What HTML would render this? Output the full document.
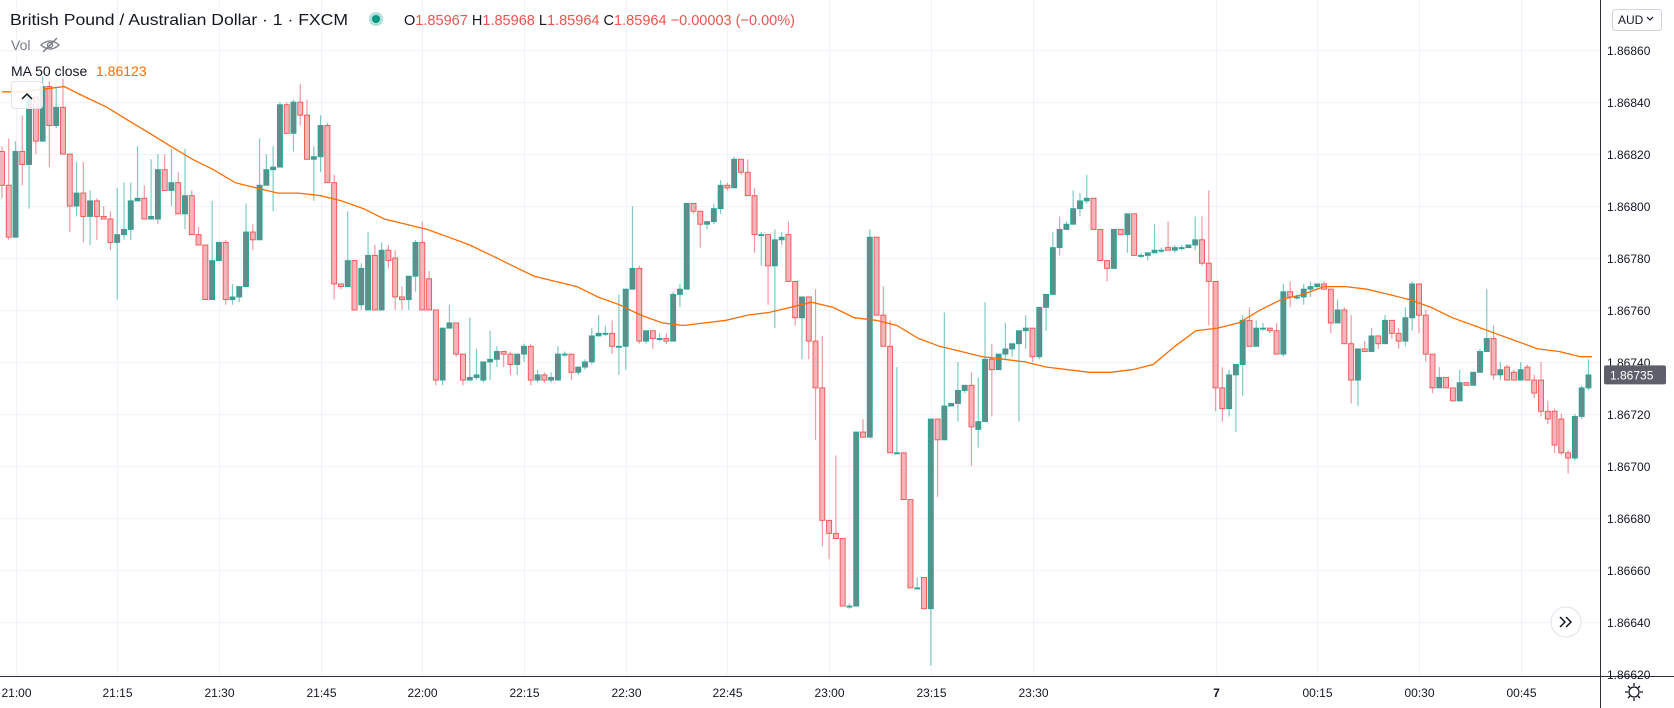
<!DOCTYPE html>
<html><head><meta charset="utf-8"><style>
html,body{margin:0;padding:0;background:#fff;}
svg{display:block;font-family:"Liberation Sans",sans-serif;}
</style></head><body>
<svg id="chart" width="1674" height="708" viewBox="0 0 1674 708" xmlns="http://www.w3.org/2000/svg">
<rect x="0" y="0" width="1674" height="708" fill="#ffffff"/>
<g id="grid"></g>
<g id="candles"></g>
<path id="ma" fill="none" stroke="#ff6d00" stroke-width="1.3"/>
<line x1="1600.5" y1="0" x2="1600.5" y2="708" stroke="#2a2e39" stroke-width="1"/>
<line x1="0" y1="676.5" x2="1674" y2="676.5" stroke="#2a2e39" stroke-width="1"/>
<g id="yticks"></g>
<g id="xticks"></g>

<g>
<text x="10" y="25" font-size="16" fill="#131722" textLength="338" lengthAdjust="spacingAndGlyphs">British Pound / Australian Dollar · 1 · FXCM</text>
<circle cx="376" cy="19" r="7" fill="#b2dfdb"/>
<circle cx="376" cy="19" r="4" fill="#089981"/>
<text x="404" y="25" font-size="15" fill="#ef5350" textLength="391" lengthAdjust="spacingAndGlyphs"><tspan fill="#131722">O</tspan>1.85967 <tspan fill="#131722">H</tspan>1.85968 <tspan fill="#131722">L</tspan>1.85964 <tspan fill="#131722">C</tspan>1.85964 −0.00003 (−0.00%)</text>
<text x="11" y="50" font-size="14" fill="#787b86">Vol</text>
<g stroke="#787b86" stroke-width="1.3" fill="none">
<path d="M41 45 q9 -8 18 0 q-9 8 -18 0z"/><circle cx="50" cy="45" r="2.5"/><line x1="43" y1="52" x2="57" y2="38"/>
</g>
<text x="11" y="76" font-size="14" fill="#131722">MA 50 close</text>
<text x="96" y="76" font-size="14" fill="#ff6d00">1.86123</text>
</g>
<g>
<rect x="11.5" y="81.5" width="31" height="27" rx="3" fill="#ffffff" fill-opacity="0.85" stroke="#e0e3eb"/>
<path d="M22 99 l5 -5 l5 5" fill="none" stroke="#131722" stroke-width="1.5"/>
</g>
<g>
<rect x="1612.5" y="9.5" width="49" height="21" rx="3" fill="#fff" stroke="#d1d4dc"/>
<text x="1618" y="24" font-size="12" fill="#131722">AUD</text>
<path d="M1647 17 l3 3 l3 -3" fill="none" stroke="#131722" stroke-width="1.2"/>
</g>
<g>
<circle cx="1566" cy="622" r="15" fill="#fff" stroke="#e0e3eb"/>
<path d="M1560 617 l5 5 l-5 5 M1566 617 l5 5 l-5 5" fill="none" stroke="#131722" stroke-width="1.5"/>
</g>
<g stroke="#131722" fill="none" stroke-width="1.3">
<circle cx="1634" cy="692" r="5"/>
<path d="M1634 683 v3 M1634 698 v3 M1625 692 h3 M1640 692 h3 M1628 686 l2 2 M1638 696 l2 2 M1640 686 l-2 2 M1630 696 l-2 2"/>
</g>
</svg>
<script>
// ---- data (prices as 1.86xxx, values stored in 1e-5 units above 1.86) ----
const BASE = 1.86;
const opens = [821,808,788,821,816,842,825,846,831,838,820,800,805,796,802,796,795,786,789,791,802,803,795,795,814,806,809,797,804,789,785,764,779,786,764,765,769,790,787,808,814,815,839,828,840,835,818,819,831,809,770,769,779,762,760,781,760,783,780,765,764,773,786,772,760,733,753,755,743,733,734,733,740,741,744,743,739,743,746,733,735,733,733,743,743,736,738,740,750,751,751,746,746,768,776,748,752,749,749,748,766,768,801,798,793,794,799,808,807,818,813,804,789,789,777,787,789,771,757,765,748,730,679,674,672,646,646,713,711,788,758,746,705,705,687,653,657,645,718,710,723,724,729,731,714,717,741,737,743,745,747,752,753,742,761,766,784,791,793,799,802,803,791,779,776,791,789,797,781,781,782,783,784,783,784,784,785,787,778,771,730,722,735,739,756,746,753,753,752,743,767,765,765,768,769,770,768,755,760,747,733,745,744,750,747,756,751,748,757,770,758,743,730,734,730,725,732,731,736,744,749,735,738,736,733,738,733,733,721,721,718,705,703,719,730];
const highs = [823,826,825,835,843,842,850,848,846,849,820,817,817,806,803,800,798,807,809,809,823,808,818,820,820,822,813,822,806,792,785,802,786,787,770,769,801,793,826,820,823,840,840,841,847,841,823,835,832,812,770,798,779,778,790,785,786,785,783,769,773,787,794,775,760,753,762,755,743,757,745,740,752,746,744,744,743,747,747,737,736,736,746,744,743,738,741,753,758,754,756,766,768,800,777,752,752,751,751,767,770,801,801,798,794,801,810,809,819,818,818,807,790,789,791,790,794,771,765,765,768,750,679,704,672,647,713,718,791,788,769,756,738,705,687,657,657,718,718,759,724,740,731,736,734,763,747,743,755,747,752,758,753,761,766,790,796,794,806,805,812,803,791,779,791,791,797,797,782,782,793,784,794,785,785,785,796,796,806,771,738,737,739,758,761,756,755,753,755,770,771,766,770,771,770,771,768,764,761,758,745,748,753,750,758,756,753,761,771,770,760,743,738,734,730,737,732,736,745,768,754,740,739,737,740,739,735,740,725,722,720,706,720,731,741];
const lows = [803,787,788,808,799,820,825,815,830,820,790,796,786,785,787,795,783,764,787,787,802,795,795,793,806,800,797,791,789,785,764,764,779,762,762,763,769,783,787,808,798,815,828,821,831,818,802,813,809,764,768,769,760,760,760,760,760,776,760,760,760,767,760,760,731,731,753,742,731,733,733,732,733,738,738,735,735,740,731,732,732,732,733,742,733,735,737,739,750,750,743,735,737,768,747,747,745,748,747,748,761,768,797,784,791,793,797,806,807,812,804,782,777,762,753,785,771,754,741,741,710,669,664,672,646,645,646,711,711,758,746,705,705,687,653,653,645,623,688,710,723,717,728,700,707,717,719,737,741,742,717,745,740,741,752,766,781,791,793,796,801,791,779,771,776,789,782,781,780,779,782,782,783,782,783,784,783,777,754,721,717,719,713,727,746,746,752,751,743,742,761,764,762,765,768,768,751,755,747,724,723,744,744,745,747,749,745,746,752,751,740,728,730,730,725,725,731,731,736,744,733,733,733,733,733,733,726,719,716,705,704,697,702,718,729];
const closes = [808,788,821,816,843,825,846,831,838,820,800,805,796,802,796,795,786,789,791,802,803,795,796,814,806,809,797,804,789,785,764,779,786,764,765,769,790,787,808,814,815,839,828,840,835,818,819,831,809,770,769,779,760,776,781,760,783,779,765,764,773,786,760,760,733,753,755,743,733,734,735,740,741,744,743,739,743,746,733,735,733,734,743,743,736,738,740,750,751,751,746,746,768,776,748,752,749,749,748,766,768,801,798,793,794,799,808,807,818,813,804,789,789,777,787,788,771,757,765,748,730,679,674,672,646,646,713,711,788,758,746,705,705,687,653,653,645,718,710,723,724,729,731,715,717,741,737,743,745,747,752,753,742,761,766,784,791,793,799,802,803,791,779,776,791,789,797,781,781,782,783,783,783,784,784,785,787,778,771,730,722,735,739,756,746,753,753,752,743,767,765,765,768,769,770,768,755,760,747,733,745,744,750,747,756,751,748,757,770,758,743,730,734,730,725,732,731,736,744,749,735,737,733,733,737,733,728,721,718,708,705,703,719,730,735];
// MA(50) close at these candle indices
const maIndex = [0,3.1,6,9.2,12.3,15.5,18.6,21.8,24.9,28.1,31.2,34.4,37.5,40.7,43.8,47,50.1,53.3,56.4,59.6,62.7,65.9,69,72.2,75.3,78.5,81.6,84.8,87.9,91.1,94.2,97.4,100.5,103.7,106.8,110,113.1,116.3,119.4,122.6,125.7,128.9,132,135.2,138.3,141.5,144.6,147.8,150.9,154.1,157.2,160.4,163.5,166.7,169.8,173,176.1,179.3,182.4,185.6,188.7,191.9,195,198.2,201.3,204.5,207.6,210.8,213.9,217.1,220.2,223.4,226.5,229.7,232.8,234.5];
const maValues = [844,844,845,846,842,838,833,828,823,818,814,809,807,805,805,804,802,799,795,793,791,788,785,781,777,773,771,769,765,762,758,755,754,755,756,758,759,761,763,761,757,756,754,749,746,744,742,741,740,738,737,736,736,737,739,746,752,753,755,760,764,766,769,769,768,766,764,761,757,754,751,748,745,744,742,742];
const priceTicks = [1.8686,1.8684,1.8682,1.8680,1.8678,1.8676,1.8674,1.8672,1.8670,1.8668,1.8666,1.8664,1.8662];
const timeTickIndex = [2,17,32,47,62,77,92,107,122,137,152,179,194,209,224];
const timeTickLabels = ["21:00","21:15","21:30","21:45","22:00","22:15","22:30","22:45","23:00","23:15","23:30","7","00:15","00:30","00:45"];
const lastPrice = "1.86735";

// ---- axes ----
const NS = "http://www.w3.org/2000/svg";
function xOf(i){ return 15.5 + (i-2)*6.78; }
function yOf(p){ return 50.2 + (1.8686 - p)/0.0002*51.95; }
function P(v){ return BASE + v/100000; }
function mk(tag, attrs, parent){ const e=document.createElementNS(NS,tag); for(const k in attrs) e.setAttribute(k,attrs[k]); parent.appendChild(e); return e; }

const grid=document.getElementById('grid'), yt=document.getElementById('yticks'), xt=document.getElementById('xticks');
priceTicks.forEach(p=>{
  const y=Math.round(yOf(p))+0.5;
  const l=mk('line',{x1:0,x2:1600,y1:y,y2:y,stroke:'#f0f3fa','stroke-width':1},grid);
  
  
  const t=mk('text',{x:1607,y:y+4.5,'font-size':12,fill:'#131722'},yt);
  t.textContent=p.toFixed(5);
  
  
});
timeTickIndex.forEach((idx,k)=>{
  const x=Math.round(xOf(idx))+0.5;
  const l=mk('line',{x1:x,x2:x,y1:0,y2:676,stroke:'#f0f3fa','stroke-width':1},grid);
  
  
  const t=mk('text',{x:x,y:697,'font-size':12,fill:'#131722','text-anchor':'middle','font-weight':timeTickLabels[k]==='7'?'bold':'normal'},xt);
  t.textContent=timeTickLabels[k];
  
  
});

// ---- candles ----
const cg=document.getElementById('candles');
for(let i=0;i<closes.length;i++){
  const o=P(opens[i]), c=P(closes[i]), h=P(highs[i]), lo=P(lows[i]);
  const up=c>=o;
  const x=xOf(i);
  const g=mk('g',{},cg);
  
  
  mk('line',{x1:x,x2:x,y1:yOf(h),y2:yOf(lo),stroke:up?'#7fcbc3':'#f29aa3','stroke-width':1.2},g);
  let yt0=yOf(Math.max(o,c)), yb=yOf(Math.min(o,c));
  if(yb-yt0<1){ yb=yt0+1; }
  mk('rect',{x:x-2.5,y:yt0,width:5,height:yb-yt0,fill:up?'#5f8f8a':'#f7b3bc',stroke:up?'#26a69a':'#ef5350','stroke-width':0.9},g);
}

// ---- MA line ----
let d='';
maIndex.forEach((idx,k)=>{ d+=(k?'L':'M')+xOf(idx).toFixed(1)+' '+yOf(P(maValues[k])).toFixed(1)+' '; });
document.getElementById('ma').setAttribute('d',d);

// ---- last price label ----
const ly=yOf(P(closes[closes.length-1]));
const lg=mk('g',{},document.getElementById('chart'));


mk('rect',{x:1604,y:ly-9.5,width:62,height:19,rx:2,fill:'#5d606b'},lg);
const lt=mk('text',{x:1610,y:ly+4.5,'font-size':12,fill:'#ffffff'},lg);
lt.textContent=lastPrice;
</script>
</body></html>
